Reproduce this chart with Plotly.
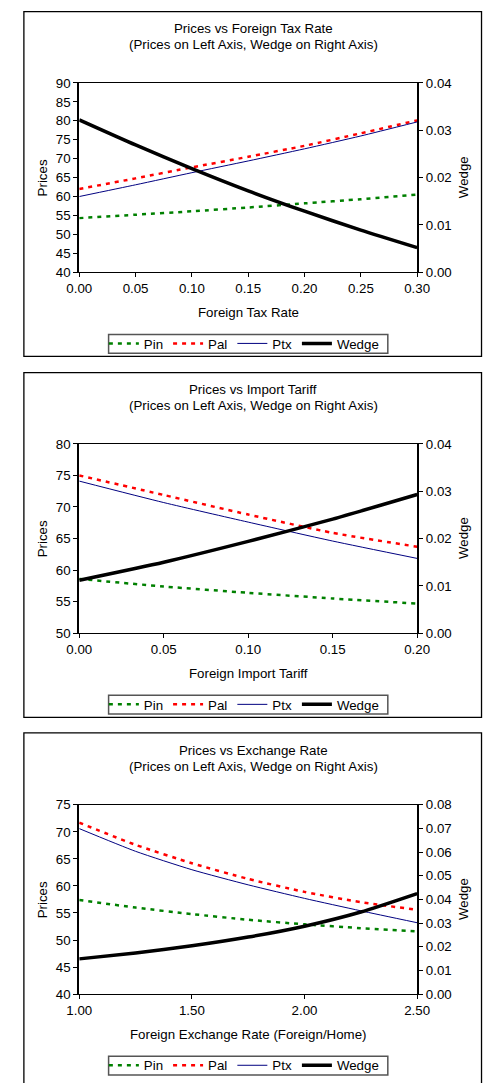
import plotly.graph_objects as go

W, H = 486, 1083

# ---------------- data ----------------
tax_rate = [0.00, 0.05, 0.10, 0.15, 0.20, 0.25, 0.30]
tax_pin = [54.3, 55.2, 56.1, 57.1, 58.2, 59.3, 60.5]
tax_pal = [62.0, 64.8, 67.7, 70.5, 73.4, 76.7, 80.1]
tax_ptx = [60.0, 63.1, 66.3, 69.4, 72.6, 76.0, 79.7]
tax_wedge = [0.0322, 0.0269, 0.0219, 0.0172, 0.0129, 0.0089, 0.0052]

tariff = [0.00, 0.05, 0.10, 0.15, 0.20]
tariff_pin = [58.6, 57.4, 56.4, 55.5, 54.7]
tariff_pal = [75.0, 71.9, 68.8, 65.9, 63.7]
tariff_ptx = [74.1, 70.7, 67.6, 64.6, 61.85]
tariff_wedge = [0.0112, 0.0150, 0.0194, 0.0241, 0.0293]

fx_rate = [1.00, 1.25, 1.50, 1.75, 2.00, 2.25, 2.50]
fx_pin = [57.4, 56.0, 54.8, 53.75, 52.9, 52.2, 51.6]
fx_pal = [71.7, 67.6, 64.2, 61.3, 58.9, 57.0, 55.6]
fx_ptx = [70.6, 66.4, 63.0, 60.2, 57.7, 55.4, 53.2]
fx_wedge = [0.0149, 0.0174, 0.0204, 0.0241, 0.0287, 0.0347, 0.0425]

series_names = ["Pin", "Pal", "Ptx", "Wedge"]

panels = [
    dict(title="Prices vs Foreign Tax Rate", xtitle="Foreign Tax Rate",
         x=tax_rate, pin=tax_pin, pal=tax_pal, ptx=tax_ptx, wedge=tax_wedge,
         xrange=[0, 0.30], xdtick=0.05, yrange=[40, 90], ydtick=5,
         y2range=[0, 0.04], y2dtick=0.01,
         plot_top=77, plot_bot=269, box_top=4.7, box_bot=354.3,
         t1=22, t2=38, xt=310, leg=341.5),
    dict(title="Prices vs Import Tariff", xtitle="Foreign Import Tariff",
         x=tariff, pin=tariff_pin, pal=tariff_pal, ptx=tariff_ptx, wedge=tariff_wedge,
         xrange=[0, 0.20], xdtick=0.05, yrange=[50, 80], ydtick=5,
         y2range=[0, 0.04], y2dtick=0.01,
         plot_top=443, plot_bot=635, box_top=370.7, box_bot=720.3,
         t1=388, t2=404, xt=676, leg=707.5),
    dict(title="Prices vs Exchange Rate", xtitle="Foreign Exchange Rate (Foreign/Home)",
         x=fx_rate, pin=fx_pin, pal=fx_pal, ptx=fx_ptx, wedge=fx_wedge,
         xrange=[1.0, 2.5], xdtick=0.5, yrange=[40, 75], ydtick=5,
         y2range=[0, 0.08], y2dtick=0.01,
         plot_top=809, plot_bot=1001, box_top=736, box_bot=1095,
         t1=754, t2=770, xt=1042, leg=1073.5),
]

FONT = "Liberation Sans, Arial, sans-serif"
FS = 13.3
PL, PR = 70, 427


def px(v):
    return v / W


def py(v):
    return 1 - v / H


fig = go.Figure()
layout = dict(width=W, height=H, margin=dict(l=0, r=0, t=0, b=0),
              paper_bgcolor="white", plot_bgcolor="white",
              font=dict(family=FONT, size=FS, color="black"),
              showlegend=True)
annotations = []
shapes = []

for i, p in enumerate(panels):
    n = i + 1
    xa = "x" if n == 1 else f"x{n}"
    ya = f"y{2 * n - 1}" if n > 1 else "y"
    yb = f"y{2 * n}"
    leg = "legend" if n == 1 else f"legend{n}"

    styles = [
        dict(color="#008000", width=2.5, dash="4px,5px"),
        dict(color="#FF0000", width=2.5, dash="4px,5px"),
        dict(color="#000080", width=1),
        dict(color="black", width=3.5),
    ]
    ys = [p["pin"], p["pal"], p["ptx"], p["wedge"]]
    for nm, yv, st in zip(series_names, ys, styles):
        fig.add_trace(go.Scatter(
            x=p["x"], y=yv, name=nm, mode="lines",
            line=dict(shape="spline", smoothing=0.6, **st),
            xaxis=xa, yaxis=(yb if nm == "Wedge" else ya), legend=leg,
        ))

    dom_y = [py(p["plot_bot"]), py(p["plot_top"])]
    xkey = "xaxis" if n == 1 else f"xaxis{n}"
    ykey = "yaxis" if n == 1 else f"yaxis{2 * n - 1}"
    y2key = f"yaxis{2 * n}"
    layout[xkey] = dict(domain=[px(PL), px(PR)], anchor=ya, range=p["xrange"],
                        dtick=p["xdtick"], tick0=p["xrange"][0], tickformat=".2f",
                        showgrid=False, zeroline=False, showline=True,
                        linecolor="black", linewidth=1, mirror=True,
                        ticks="outside", ticklen=4, tickcolor="black",
                        tickfont=dict(size=FS))
    layout[ykey] = dict(domain=dom_y, anchor=xa, range=p["yrange"], dtick=p["ydtick"],
                        showgrid=False, zeroline=False, showline=True,
                        linecolor="black", linewidth=2,
                        ticks="outside", ticklen=4, tickcolor="black",
                        tickfont=dict(size=FS))
    layout[y2key] = dict(overlaying=ya, side="right", anchor=xa, range=p["y2range"],
                         dtick=p["y2dtick"], tickformat=".2f",
                         showgrid=False, zeroline=False, showline=True,
                         linecolor="black", linewidth=2,
                         ticks="outside", ticklen=4, tickcolor="black",
                         tickfont=dict(size=FS))
    layout[leg] = dict(orientation="h", x=px(96), xanchor="left",
                       y=py(p["leg"]), yanchor="middle",
                       bgcolor="rgba(0,0,0,0)", borderwidth=0,
                       font=dict(size=FS), tracegroupgap=0, itemsizing="trace")

    # legend frame
    shapes.append(dict(type="rect", xref="paper", yref="paper",
                       x0=px(101), x1=px(396), y0=py(p["leg"] + 9.5), y1=py(p["leg"] - 9.5),
                       line=dict(color="#555555", width=1.5), fillcolor="white",
                       layer="below"))

    # titles
    annotations.append(dict(text=p["title"], x=px(254), y=py(p["t1"]), xref="paper",
                            yref="paper", showarrow=False, xanchor="center",
                            yanchor="middle", font=dict(size=FS)))
    annotations.append(dict(text="(Prices on Left Axis, Wedge on Right Axis)", x=px(254),
                            y=py(p["t2"]), xref="paper", yref="paper", showarrow=False,
                            xanchor="center", yanchor="middle", font=dict(size=FS)))
    annotations.append(dict(text=p["xtitle"], x=px(248.5), y=py(p["xt"]), xref="paper",
                            yref="paper", showarrow=False, xanchor="center",
                            yanchor="middle", font=dict(size=FS)))
    mid = (p["plot_top"] + p["plot_bot"]) / 2
    annotations.append(dict(text="Prices", x=px(31.5), y=py(mid), xref="paper",
                            yref="paper", showarrow=False, textangle=-90,
                            xanchor="center", yanchor="middle", font=dict(size=FS)))
    annotations.append(dict(text="Wedge", x=px(476), y=py(mid), xref="paper",
                            yref="paper", showarrow=False, textangle=-90,
                            xanchor="center", yanchor="middle", font=dict(size=FS)))
    shapes.append(dict(type="rect", xref="paper", yref="paper",
                       x0=px(11.5), x1=px(495), y0=py(p["box_bot"]), y1=py(p["box_top"]),
                       line=dict(color="black", width=1.3), fillcolor="rgba(0,0,0,0)",
                       layer="below"))

layout["annotations"] = annotations
layout["shapes"] = shapes
fig.update_layout(**layout)

fig.write_html("out.html", config={"displayModeBar": False},
               post_script="document.body.style.margin='0';")
